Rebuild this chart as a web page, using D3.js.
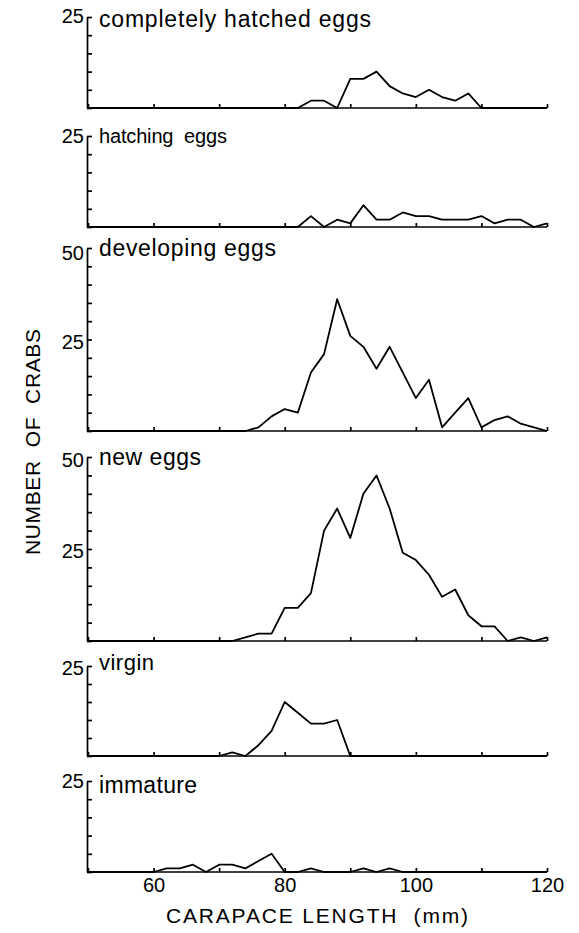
<!DOCTYPE html>
<html>
<head>
<meta charset="utf-8">
<script src="https://cdn.jsdelivr.net/npm/d3@7"></script>
<style>
body { margin: 0; background: #fff; }
svg text { font-family: "Liberation Sans", Arial, sans-serif; fill: #000; }
</style>
</head>
<body>
<svg id="chart" width="579" height="933"></svg>
<script>
// carapace length classes (mm), one point every 2 mm
const carapaceMm = [50, 52, 54, 56, 58, 60, 62, 64, 66, 68, 70, 72, 74, 76, 78, 80, 82, 84,
                    86, 88, 90, 92, 94, 96, 98, 100, 102, 104, 106, 108, 110, 112, 114, 116, 118, 120];

// number of crabs per class
const completelyHatched = [0, 0, 0, 0, 0, 0, 0, 0, 0, 0, 0, 0, 0, 0, 0, 0, 0, 2,
                           2, 0, 8, 8, 10, 6, 4, 3, 5, 3, 2, 4, 0, 0, 0, 0, 0, 0];
const hatching          = [0, 0, 0, 0, 0, 0, 0, 0, 0, 0, 0, 0, 0, 0, 0, 0, 0, 3,
                           0, 2, 1, 6, 2, 2, 4, 3, 3, 2, 2, 2, 3, 1, 2, 2, 0, 1];
const developing        = [0, 0, 0, 0, 0, 0, 0, 0, 0, 0, 0, 0, 0, 1, 4, 6, 5, 16,
                           21, 36, 26, 23, 17, 23, 16, 9, 14, 1, 5, 9, 1, 3, 4, 2, 1, 0];
const newEggs           = [0, 0, 0, 0, 0, 0, 0, 0, 0, 0, 0, 0, 1, 2, 2, 9, 9, 13,
                           30, 36, 28, 40, 45, 36, 24, 22, 18, 12, 14, 7, 4, 4, 0, 1, 0, 1];
const virgin            = [0, 0, 0, 0, 0, 0, 0, 0, 0, 0, 0, 1, 0, 3, 7, 15, 12, 9,
                           9, 10, 0, 0, 0, 0, 0, 0, 0, 0, 0, 0, 0, 0, 0, 0, 0, 0];
const immature          = [0, 0, 0, 0, 0, 0, 1, 1, 2, 0, 2, 2, 1, 3, 5, 0, 0, 1,
                           0, 0, 0, 1, 0, 1, 0, 0, 0, 0, 0, 0, 0, 0, 0, 0, 0, 0];

const panelNames = ["completely hatched eggs", "hatching  eggs", "developing eggs",
                    "new eggs", "virgin", "immature"];
const panelSeries = [completelyHatched, hatching, developing, newEggs, virgin, immature];
const panelMax = [25, 25, 50, 50, 25, 25];
const xTicks = [50, 60, 70, 80, 90, 100, 110, 120];
const xTickLabels = [60, 80, 100, 120];

// layout of the six stacked panels
const panels = [
    {top: 17,  base: 108, labelY: 27,  labelSize: 23, labelW: 272, numDy: 6},
    {top: 136, base: 227, labelY: 143, labelSize: 20, labelW: 128, numDy: 7},
    {top: 248, base: 431, labelY: 256, labelSize: 23, labelW: 177, numDy: 12},
    {top: 457, base: 641, labelY: 465, labelSize: 23, labelW: 102, numDy: 10},
    {top: 666, base: 756, labelY: 670, labelSize: 22, labelW: 55,  numDy: 9},
    {top: 781, base: 872, labelY: 793, labelSize: 23, labelW: 98,  numDy: 7}
];

const svg = d3.select("#chart");
const axisX = 87;

const x = d3.scaleLinear()
    .domain([50, 120])
    .range([88, 547]);

panels.forEach(function (p, i) {
    const max = panelMax[i];
    const y = d3.scaleLinear()
        .domain([0, max])
        .range([p.base, p.top]);

    const g = svg.append("g");
    const isLast = i === panels.length - 1;

    // x axis with small upward ticks
    const xAxis = g.append("g")
        .attr("transform", "translate(0," + p.base + ")")
        .call(d3.axisBottom(x)
            .tickValues(xTicks)
            .tickSizeInner(-4)
            .tickSizeOuter(0)
            .tickPadding(6)
            .tickFormat(function (d) { return (isLast && xTickLabels.indexOf(d) >= 0) ? d : ""; }));
    xAxis.select(".domain").attr("d", "M" + axisX + ",0H" + x.range()[1]);
    xAxis.selectAll("text").style("font-size", "20px").attr("fill", "#000");

    // y axis, ticks pointing inwards
    g.append("g")
        .attr("transform", "translate(" + axisX + ",0)")
        .call(d3.axisLeft(y)
            .tickValues(d3.range(0, max + 1, 5))
            .tickSizeInner(-5)
            .tickSizeOuter(0)
            .tickFormat(""));

    g.selectAll(".domain, .tick line")
        .attr("stroke", "#000")
        .attr("stroke-width", 1.7);

    // tick numbers
    const labelled = max === 50 ? [50, 25] : [25];
    g.selectAll("text.num")
        .data(labelled)
        .enter()
        .append("text")
        .attr("class", "num")
        .attr("x", axisX - 3)
        .attr("y", function (d) { return y(d) + (d === max ? p.numDy : 9); })
        .attr("text-anchor", "end")
        .style("font-size", "20px")
        .text(function (d) { return d; });

    // frequency line
    const line = d3.line()
        .x(function (d, j) { return x(carapaceMm[j]); })
        .y(function (d) { return y(d); });

    g.append("path")
        .datum(panelSeries[i])
        .attr("fill", "none")
        .attr("stroke", "#000")
        .attr("stroke-width", 1.8)
        .attr("stroke-linejoin", "round")
        .attr("d", line);

    // panel title
    g.append("text")
        .attr("x", 99)
        .attr("y", p.labelY)
        .attr("textLength", p.labelW)
        .attr("lengthAdjust", "spacing")
        .style("font-size", p.labelSize + "px")
        .style("white-space", "pre")
        .text(panelNames[i]);
});

svg.append("text")
    .attr("x", 317)
    .attr("y", 923)
    .attr("text-anchor", "middle")
    .attr("textLength", 302)
    .attr("lengthAdjust", "spacing")
    .style("font-size", "21px")
    .style("white-space", "pre")
    .text("CARAPACE LENGTH  (mm)");

svg.append("text")
    .attr("transform", "translate(40,442) rotate(-90)")
    .attr("text-anchor", "middle")
    .attr("textLength", 226)
    .attr("lengthAdjust", "spacing")
    .style("font-size", "21px")
    .style("white-space", "pre")
    .text("NUMBER  OF  CRABS");
</script>
</body>
</html>
